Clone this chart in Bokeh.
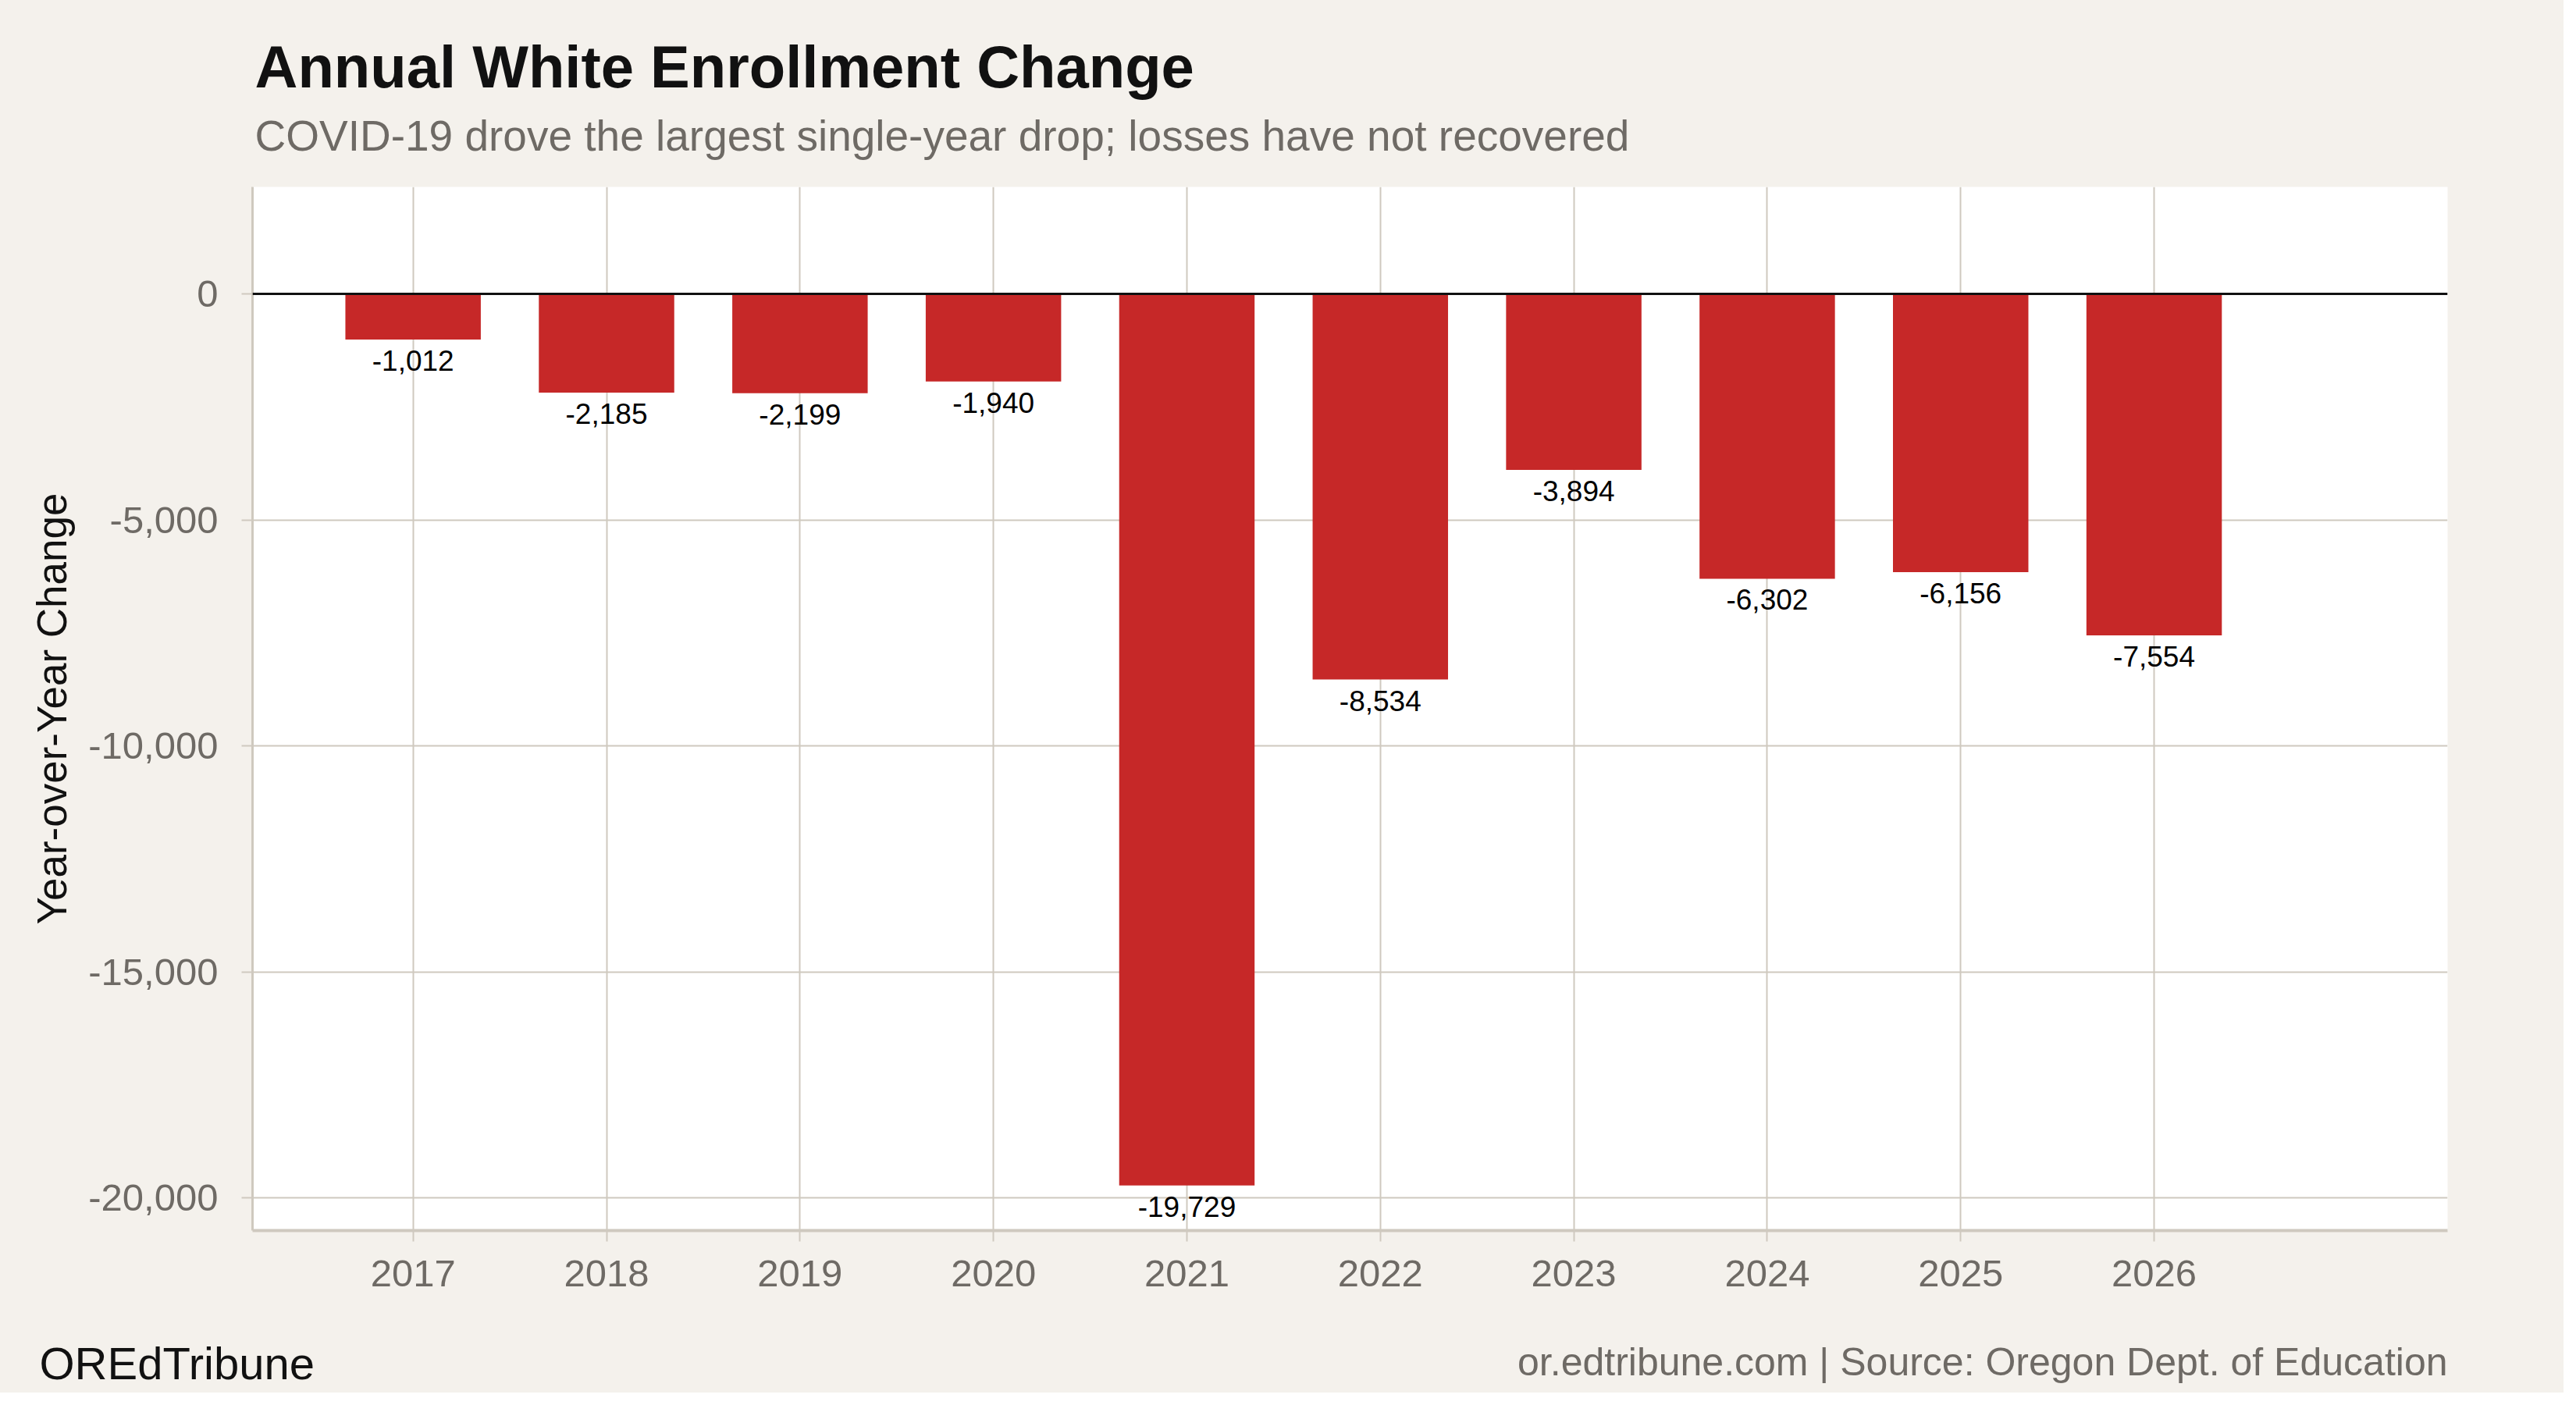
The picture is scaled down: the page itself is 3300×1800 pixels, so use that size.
from bokeh.plotting import figure
from bokeh.layouts import column
from bokeh.models import Range1d, FixedTicker, NumeralTickFormatter, Span, ColumnDataSource
from bokeh.core.properties import value
from bokeh.embed import file_html
from bokeh.resources import INLINE

years = ["2017", "2018", "2019", "2020", "2021", "2022", "2023", "2024", "2025", "2026"]
change = [-1012, -2185, -2199, -1940, -19729, -8534, -3894, -6302, -6156, -7554]
y_ticks = [-20000, -15000, -10000, -5000, 0]

title = "Annual White Enrollment Change"
subtitle = "COVID-19 drove the largest single-year drop; losses have not recovered"
brand = "OREdTribune"
source_note = "or.edtribune.com | Source: Oregon Dept. of Education"

FONT = "Liberation Sans"
BG = "#f4f1ec"
GRID = "#cfc9bf"
GRAY = "#6e6a65"
RED = "#c62828"
W = 3284


def text_strip(height):
    # bare figure whose frame is the whole strip, y measured from the top
    f = figure(width=W, height=height, output_backend="svg", toolbar_location=None,
               x_range=Range1d(0, W), y_range=Range1d(height, 0),
               x_axis_type=None, y_axis_type=None, min_border=0, frame_align=False)
    f.title.visible = False
    f.grid.visible = False
    f.outline_line_color = None
    f.background_fill_color = BG
    f.border_fill_color = BG
    return f


# header
head = text_strip(239)
head.text(x=[326], y=[85], text=[title], text_font=value(FONT), text_font_size="76px",
          text_font_style="bold", text_color="#111111", text_baseline="alphabetic")
head.text(x=[326], y=[173], text=[subtitle], text_font=value(FONT), text_font_size="55px",
          text_color=GRAY, text_baseline="alphabetic")

# main chart
idx = list(range(1, len(years) + 1))
src = ColumnDataSource(data=dict(
    x=idx,
    top=change,
    label=[f"{v:,}" for v in change],
))

p = figure(width=W, height=1451, output_backend="svg", toolbar_location=None,
           x_range=Range1d(0.17, 11.517), y_range=Range1d(-20725, 2366),
           min_border_left=323, min_border_right=149, min_border_top=0, min_border_bottom=114)
p.title.visible = False
p.background_fill_color = "white"
p.border_fill_color = BG
p.outline_line_color = None

p.xgrid.ticker = FixedTicker(ticks=idx)
p.ygrid.ticker = FixedTicker(ticks=y_ticks)
for g in (p.xgrid, p.ygrid):
    g.grid_line_color = GRID
    g.grid_line_width = 2

p.vbar(x="x", bottom=0, top="top", width=0.7, source=src, fill_color=RED, line_color=None)
p.text(x="x", y="top", text="label", source=src, text_align="center", text_baseline="alphabetic",
       y_offset=27, text_font=value(FONT), text_font_size="37px", text_color="black")

p.add_layout(Span(location=0, dimension="width", line_color="#111111", line_width=3))

p.xaxis.ticker = FixedTicker(ticks=idx)
p.xaxis.major_label_overrides = {i: y for i, y in zip(idx, years)}
p.yaxis.ticker = FixedTicker(ticks=y_ticks)
p.yaxis.formatter = NumeralTickFormatter(format="0,0")
p.yaxis.axis_label = "Year-over-Year Change"
p.yaxis.axis_label_text_font = FONT
p.yaxis.axis_label_text_font_size = "53px"
p.yaxis.axis_label_text_font_style = "normal"
p.yaxis.axis_label_text_color = "#111111"
p.yaxis.axis_label_standoff = 14
p.xaxis.major_label_standoff = 24
p.yaxis.major_label_standoff = 30
p.xaxis.axis_line_width = 4
p.yaxis.axis_line_width = 3
for ax in (p.xaxis, p.yaxis):
    ax.axis_line_color = GRID
    ax.major_tick_line_color = GRID
    ax.major_tick_line_width = 2
    ax.major_tick_out = 14
    ax.major_tick_in = 0
    ax.minor_tick_line_color = None
    ax.major_label_text_font = FONT
    ax.major_label_text_font_size = "49px"
    ax.major_label_text_color = GRAY

# footer
foot = text_strip(1784 - 239 - 1451)
foot.text(x=[50], y=[56], text=[brand], text_font=value(FONT), text_font_size="58px",
          text_color="#111111", text_baseline="alphabetic")
foot.text(x=[3135], y=[54], text=[source_note], text_font=value(FONT), text_font_size="50px",
          text_color=GRAY, text_align="right", text_baseline="alphabetic")

page = column(head, p, foot, spacing=0, styles={"background-color": BG})
open("out.html", "w").write(file_html(page, INLINE))
